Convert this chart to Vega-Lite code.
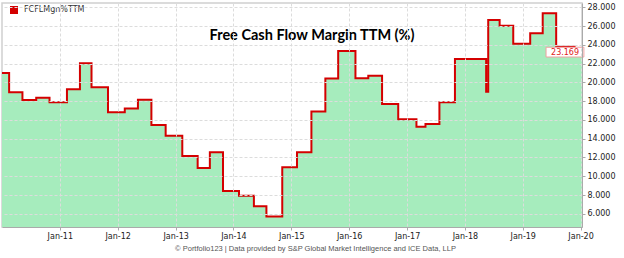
{
  "$schema": "https://vega.github.io/schema/vega-lite/v6.json",
  "width": 580,
  "height": 224,
  "autosize": {"type": "none"},
  "padding": {"left": 2, "top": 3, "right": 42, "bottom": 31},
  "background": "white",
  "config": {
    "view": {"stroke": "#d0d0d0", "strokeWidth": 1.5},
    "font": "DejaVu Sans"
  },
  "title": {
    "text": "Free Cash Flow Margin TTM (%)",
    "font": "Lato",
    "fontSize": 14.5,
    "fontWeight": "bold",
    "color": "#000000",
    "anchor": "middle",
    "frame": "group",
    "dx": 20,
    "dy": 44
  },
  "datasets": {
    "series": [
      {"date": "2010-01-01", "v": 21.0, "s": "FCFLMgn%TTM"},
      {"date": "2010-02-15", "v": 18.95, "s": "FCFLMgn%TTM"},
      {"date": "2010-05-10", "v": 18.12, "s": "FCFLMgn%TTM"},
      {"date": "2010-08-05", "v": 18.37, "s": "FCFLMgn%TTM"},
      {"date": "2010-10-28", "v": 17.87, "s": "FCFLMgn%TTM"},
      {"date": "2011-02-15", "v": 19.26, "s": "FCFLMgn%TTM"},
      {"date": "2011-05-08", "v": 22.03, "s": "FCFLMgn%TTM"},
      {"date": "2011-07-20", "v": 19.47, "s": "FCFLMgn%TTM"},
      {"date": "2011-11-01", "v": 16.81, "s": "FCFLMgn%TTM"},
      {"date": "2012-02-15", "v": 17.23, "s": "FCFLMgn%TTM"},
      {"date": "2012-05-08", "v": 18.15, "s": "FCFLMgn%TTM"},
      {"date": "2012-08-01", "v": 15.45, "s": "FCFLMgn%TTM"},
      {"date": "2012-10-30", "v": 14.31, "s": "FCFLMgn%TTM"},
      {"date": "2013-02-12", "v": 12.15, "s": "FCFLMgn%TTM"},
      {"date": "2013-05-20", "v": 10.87, "s": "FCFLMgn%TTM"},
      {"date": "2013-08-05", "v": 12.57, "s": "FCFLMgn%TTM"},
      {"date": "2013-10-27", "v": 8.42, "s": "FCFLMgn%TTM"},
      {"date": "2014-02-05", "v": 7.92, "s": "FCFLMgn%TTM"},
      {"date": "2014-05-10", "v": 6.82, "s": "FCFLMgn%TTM"},
      {"date": "2014-07-28", "v": 5.72, "s": "FCFLMgn%TTM"},
      {"date": "2014-11-05", "v": 10.97, "s": "FCFLMgn%TTM"},
      {"date": "2015-02-06", "v": 12.57, "s": "FCFLMgn%TTM"},
      {"date": "2015-05-08", "v": 16.9, "s": "FCFLMgn%TTM"},
      {"date": "2015-08-04", "v": 20.4, "s": "FCFLMgn%TTM"},
      {"date": "2015-10-24", "v": 23.34, "s": "FCFLMgn%TTM"},
      {"date": "2016-02-10", "v": 20.43, "s": "FCFLMgn%TTM"},
      {"date": "2016-05-01", "v": 20.71, "s": "FCFLMgn%TTM"},
      {"date": "2016-07-27", "v": 17.69, "s": "FCFLMgn%TTM"},
      {"date": "2016-11-06", "v": 16.06, "s": "FCFLMgn%TTM"},
      {"date": "2017-03-01", "v": 15.27, "s": "FCFLMgn%TTM"},
      {"date": "2017-04-27", "v": 15.56, "s": "FCFLMgn%TTM"},
      {"date": "2017-07-24", "v": 17.87, "s": "FCFLMgn%TTM"},
      {"date": "2017-10-30", "v": 22.49, "s": "FCFLMgn%TTM"},
      {"date": "2018-05-15", "v": 19.0, "s": "FCFLMgn%TTM"},
      {"date": "2018-05-28", "v": 26.65, "s": "FCFLMgn%TTM"},
      {"date": "2018-08-08", "v": 26.04, "s": "FCFLMgn%TTM"},
      {"date": "2018-11-02", "v": 24.12, "s": "FCFLMgn%TTM"},
      {"date": "2019-02-17", "v": 25.23, "s": "FCFLMgn%TTM"},
      {"date": "2019-05-07", "v": 27.36, "s": "FCFLMgn%TTM"},
      {"date": "2019-07-31", "v": 23.8, "s": "FCFLMgn%TTM"},
      {"date": "2019-11-24", "v": 23.169, "s": "FCFLMgn%TTM"},
      {"date": "2020-01-10", "v": 23.169, "s": "FCFLMgn%TTM"}
    ],
    "last": [
      {"x": "2019-05-28", "x2": "2020-01-22", "xm": "2019-09-25", "y": 22.7, "y2": 23.74, "v": 23.169, "label": "23.169"}
    ]
  },
  "encoding": {
    "x": {
      "field": "date",
      "type": "temporal",
      "scale": {"domain": ["2010-01-01", "2020-01-10"], "nice": false},
      "axis": {
        "values": [
          {"year": 2011, "month": 1, "date": 1},
          {"year": 2012, "month": 1, "date": 1},
          {"year": 2013, "month": 1, "date": 1},
          {"year": 2014, "month": 1, "date": 1},
          {"year": 2015, "month": 1, "date": 1},
          {"year": 2016, "month": 1, "date": 1},
          {"year": 2017, "month": 1, "date": 1},
          {"year": 2018, "month": 1, "date": 1},
          {"year": 2019, "month": 1, "date": 1},
          {"year": 2020, "month": 1, "date": 1}
        ],
        "format": "%b-%y",
        "labelFont": "DejaVu Sans",
        "labelFontSize": 8,
        "labelColor": "#222222",
        "labelPadding": 2,
        "tickSize": 3,
        "tickColor": "#aaaaaa",
        "domainColor": "#aaaaaa",
        "grid": true,
        "gridColor": "#dcdcdc",
        "gridDash": [3, 2],
        "zindex": 1,
        "title": "© Portfolio123 | Data provided by S&P Global Market Intelligence and ICE Data, LLP",
        "titleFont": "Liberation Sans",
        "titleFontSize": 7.5,
        "titleFontWeight": "normal",
        "titleColor": "#555555",
        "titlePadding": 4,
        "titleX": 313
      }
    },
    "y": {
      "field": "v",
      "type": "quantitative",
      "scale": {"domain": [4.6, 28.45], "nice": false, "zero": false},
      "axis": {
        "orient": "right",
        "values": [6, 8, 10, 12, 14, 16, 18, 20, 22, 24, 26, 28],
        "format": ".3f",
        "labelFont": "DejaVu Sans",
        "labelFontSize": 8,
        "labelColor": "#222222",
        "labelPadding": 2,
        "tickSize": 3,
        "tickColor": "#aaaaaa",
        "domainColor": "#aaaaaa",
        "grid": true,
        "gridColor": "#dcdcdc",
        "gridDash": [3, 2],
        "zindex": 1,
        "title": null
      }
    }
  },
  "layer": [
    {
      "data": {"name": "series"},
      "mark": {"type": "area", "interpolate": "step-after", "color": "#a6ecbd", "clip": true}
    },
    {
      "data": {"name": "series"},
      "mark": {"type": "line", "interpolate": "step-after", "strokeWidth": 2, "clip": true},
      "encoding": {
        "color": {
          "field": "s",
          "type": "nominal",
          "scale": {"range": ["#d40000"]},
          "legend": {
            "title": null,
            "orient": "none",
            "legendX": 8,
            "legendY": 3,
            "symbolType": "square",
            "symbolFillColor": "#d40000",
            "symbolStrokeColor": "#d40000",
            "symbolStrokeWidth": 0,
            "symbolSize": 64,
            "labelFont": "DejaVu Sans",
            "labelFontSize": 8,
            "labelColor": "#333333",
            "labelOffset": 6
          }
        }
      }
    },
    {
      "data": {"name": "last"},
      "mark": {"type": "rect", "fill": "white", "stroke": "#f0a0a0", "strokeWidth": 1},
      "encoding": {
        "x": {"field": "x", "type": "temporal"},
        "x2": {"field": "x2"},
        "y": {"field": "y", "type": "quantitative"},
        "y2": {"field": "y2"}
      }
    },
    {
      "data": {"name": "last"},
      "mark": {"type": "text", "color": "#e02020", "font": "DejaVu Sans", "fontSize": 8, "align": "center", "baseline": "middle"},
      "encoding": {
        "x": {"field": "xm", "type": "temporal"},
        "y": {"field": "v", "type": "quantitative"},
        "text": {"field": "label"}
      }
    }
  ]
}
